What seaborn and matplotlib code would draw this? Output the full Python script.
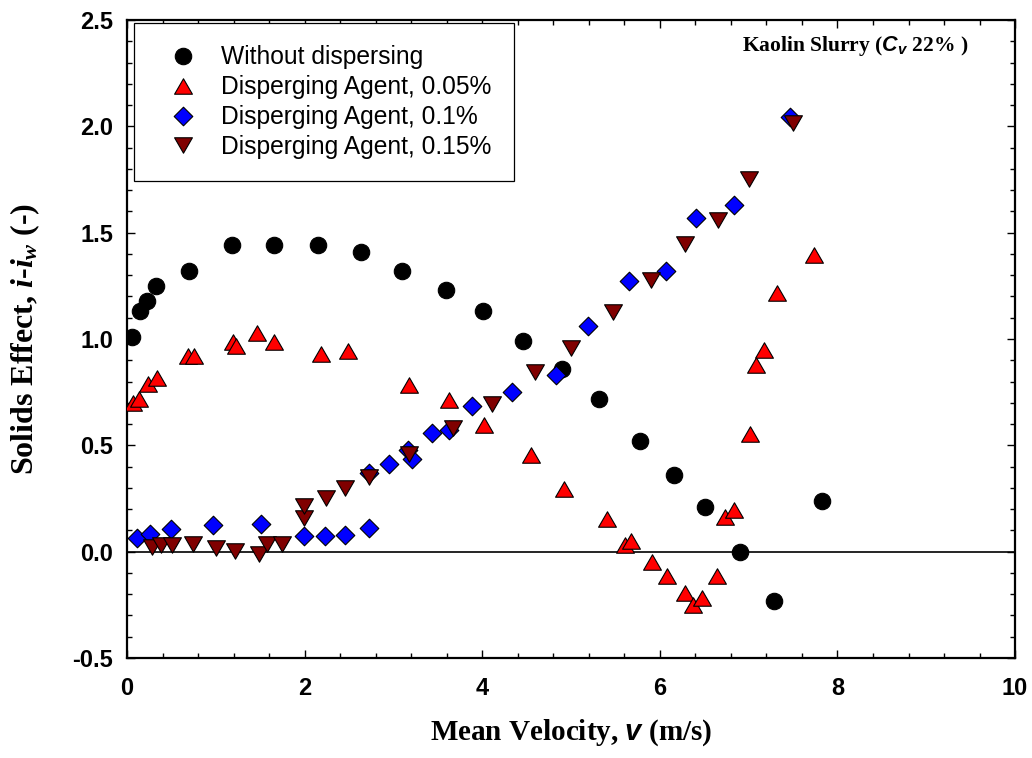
import matplotlib
matplotlib.use("Agg")
import matplotlib.pyplot as plt
import seaborn as sns
from matplotlib.path import Path
from matplotlib.lines import Line2D
from matplotlib.ticker import MultipleLocator, FormatStrFormatter

# --- DATA ---
SERIES = ["Without dispersing", "Disperging Agent, 0.05%",
          "Disperging Agent, 0.1%", "Disperging Agent, 0.15%"]

v_none = [0.06, 0.15, 0.23, 0.33, 0.70, 1.18, 1.66, 2.15, 2.63, 3.10, 3.59,
          4.01, 4.46, 4.90, 5.31, 5.78, 6.16, 6.51, 6.90, 7.28, 7.83]
i_none = [1.01, 1.13, 1.18, 1.25, 1.32, 1.44, 1.44, 1.44, 1.41, 1.32, 1.23,
          1.13, 0.99, 0.86, 0.72, 0.52, 0.36, 0.21, 0.00, -0.23, 0.24]

v_005 = [0.07, 0.14, 0.24, 0.34, 0.69, 0.75, 1.19, 1.23, 1.46, 1.65, 2.18,
         2.49, 3.18, 3.62, 4.02, 4.55, 4.92, 5.41, 5.61, 5.68, 5.91, 6.08,
         6.28, 6.37, 6.47, 6.64, 6.73, 6.84, 7.02, 7.08, 7.17, 7.32, 7.74]
i_005 = [0.70, 0.72, 0.79, 0.815, 0.92, 0.92, 0.985, 0.965, 1.03, 0.985, 0.93,
         0.945, 0.785, 0.715, 0.595, 0.455, 0.295, 0.155, 0.03, 0.05, -0.05,
         -0.115, -0.195, -0.25, -0.22, -0.115, 0.165, 0.195, 0.555, 0.88,
         0.948, 1.218, 1.397]

v_010 = [0.11, 0.26, 0.49, 0.97, 1.51, 1.99, 2.23, 2.45, 2.73, 2.72, 2.95,
         3.16, 3.21, 3.43, 3.63, 3.89, 4.34, 4.83, 5.19, 5.65, 6.07, 6.41,
         6.84, 7.47]
i_010 = [0.062, 0.083, 0.106, 0.125, 0.128, 0.075, 0.075, 0.078, 0.112, 0.372,
         0.414, 0.476, 0.436, 0.559, 0.57, 0.687, 0.753, 0.831, 1.06, 1.273,
         1.32, 1.571, 1.631, 2.042]

v_015 = [0.28, 0.38, 0.51, 0.74, 1.00, 1.22, 1.49, 1.58, 1.74, 1.99, 1.99,
         2.24, 2.46, 2.73, 3.18, 3.67, 4.11, 4.59, 5.00, 5.47, 5.90, 6.28,
         6.66, 7.00, 7.50]
i_015 = [0.023, 0.031, 0.031, 0.034, 0.019, 0.003, -0.013, 0.034, 0.034, 0.16,
         0.216, 0.254, 0.30, 0.35, 0.461, 0.58, 0.695, 0.844, 0.958, 1.125,
         1.276, 1.447, 1.558, 1.754, 2.014]

# --- STYLE ---
sns.set_theme(style="ticks", rc={"text.color": "black", "axes.labelcolor": "black",
                                 "xtick.color": "black", "ytick.color": "black",
                                 "axes.edgecolor": "black"})
plt.rcParams["font.family"] = ["Liberation Sans", "DejaVu Sans"]
plt.rcParams["mathtext.fontset"] = "custom"
plt.rcParams["mathtext.rm"] = "Liberation Serif:bold"
plt.rcParams["mathtext.it"] = "Liberation Serif:italic:bold"
plt.rcParams["mathtext.bf"] = "Liberation Serif:bold"
plt.rcParams["mathtext.sf"] = "Liberation Sans:italic:bold"

# equilateral triangles and a diamond, like the original plotting package
tri_up = Path([(0, 0.433), (-0.5, -0.433), (0.5, -0.433), (0, 0.433)], closed=True)
tri_dn = Path([(0, -0.433), (-0.5, 0.433), (0.5, 0.433), (0, -0.433)], closed=True)
diamond = Path([(0, 0.5), (0.5, 0), (0, -0.5), (-0.5, 0), (0, 0.5)], closed=True)

styles = [
    (v_none, i_none, "o", "black", 140),
    (v_005, i_005, tri_up, "#ff0000", 165),
    (v_010, i_010, diamond, "#0000ff", 180),
    (v_015, i_015, tri_dn, "#800000", 165),
]

fig = plt.figure(figsize=(10.32, 7.58), dpi=100)
ax = fig.add_axes([0.1231, 0.1319, 0.8605, 0.8417])

ax.axhline(0, color="black", linewidth=1.2, zorder=1)

handles = []
for (vx, iy, mk, col, size), name in zip(styles, SERIES):
    sns.scatterplot(x=vx, y=iy, marker=mk, color=col, s=size,
                    edgecolor="black", linewidth=0.8, ax=ax, zorder=3)
    handles.append(Line2D([], [], linestyle="none", marker=mk, color=col,
                          markeredgecolor="black", markeredgewidth=0.8,
                          markersize=size ** 0.5, label=name))

ax.set_xlim(0, 10)
ax.set_ylim(-0.5, 2.5)
ax.xaxis.set_major_locator(MultipleLocator(2))
ax.xaxis.set_minor_locator(MultipleLocator(0.4))
ax.yaxis.set_major_locator(MultipleLocator(0.5))
ax.yaxis.set_minor_locator(MultipleLocator(0.1))
ax.yaxis.set_major_formatter(FormatStrFormatter("%.1f"))

ax.tick_params(which="both", direction="in", top=True, right=True,
               color="black", width=1.0)
ax.tick_params(which="major", length=6, labelsize=17, pad=10)
ax.tick_params(axis="x", which="major", pad=14)
ax.tick_params(which="minor", length=3.8)
for lab in ax.get_xticklabels() + ax.get_yticklabels():
    lab.set_fontweight("bold")

for sp in ax.spines.values():
    sp.set_linewidth(1.6)
    sp.set_color("black")

ax.set_xlabel("Mean Velocity, $\\mathsf{v}$ (m/s)", family="Liberation Serif",
              fontweight="bold", fontsize=21, labelpad=12)
ax.set_ylabel("Solids Effect, $i$-$i_w$ (-)", family="Liberation Serif",
              fontweight="bold", fontsize=23, labelpad=22)

ax.text(0.6926, 0.96, "Kaolin Slurry ($\\mathsf{C_v}$ 22% )",
        transform=ax.transAxes, family="Liberation Serif", fontweight="bold",
        fontsize=15.5, ha="left", va="center")

leg = ax.legend(handles=handles, loc="upper left", bbox_to_anchor=(0.008, 0.995),
                borderaxespad=0, fontsize=17.7, frameon=True, fancybox=False,
                edgecolor="black", framealpha=1, labelspacing=0.24,
                handletextpad=0.45, borderpad=0.9, handlelength=2.2)
leg.get_frame().set_linewidth(0.9)

fig.savefig("out.png", dpi=100)
